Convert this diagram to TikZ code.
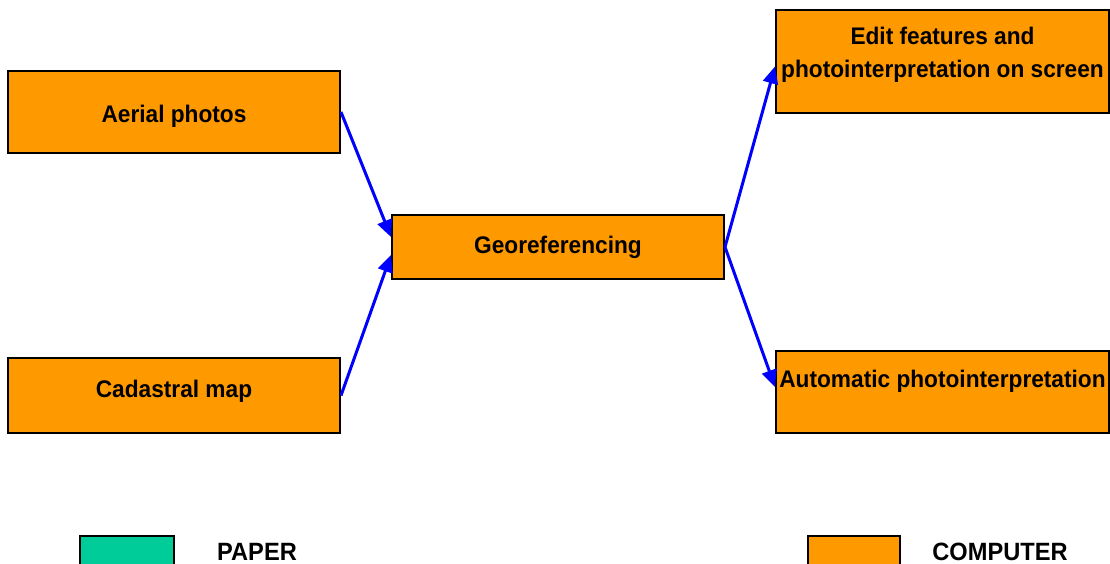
\documentclass[tikz,border=0pt]{standalone}
\usepackage{fontspec}
\setmainfont{Liberation Sans}[FakeStretch=0.945]
\usepackage{tikz}
\usetikzlibrary{arrows.meta,positioning}

\definecolor{boxorange}{HTML}{FF9900}
\definecolor{papergreen}{HTML}{00CC99}
\definecolor{flowblue}{HTML}{0000FF}

\begin{document}
\begin{tikzpicture}[x=1pt, y=1pt,
    box/.style={draw=black, line width=2pt, fill=boxorange, minimum width=332pt,
                inner sep=2pt, align=center, font=\fontsize{24}{33}\selectfont\bfseries},
    key/.style={draw=black, line width=2pt, minimum height=34pt},
    keytext/.style={anchor=base, font=\fontsize{25}{30}\selectfont\bfseries},
    flow/.style={draw=flowblue, line width=3pt, -{Triangle[length=17pt,width=15pt]}}]
   \useasboundingbox (0,0) rectangle (1110,564);

   \node[box, minimum height=82pt, text height=27pt, text depth=5pt] (aerial) at (174,452) {Aerial photos};
   \node[box, minimum height=75pt, text height=17.5pt, text depth=12.5pt] (cadastral) at (174,168.5) {Cadastral map};
   \node[box, minimum height=64pt] (georef) at (558,317) {Georeferencing};
   \node[box, minimum width=333pt, minimum height=103pt, text height=38pt, text depth=5pt] (edit) at (942.5,502.5)
        {Edit features and\\photointerpretation on screen};
   \node[box, minimum width=333pt, minimum height=82pt, text height=17.5pt, text depth=25.5pt] (autoint) at (942.5,172)
        {Automatic photointerpretation};

   %legend
   \node[key, fill=papergreen, minimum width=94pt] (paperkey) at (127,11) {};
   \node[keytext] (paper) at (257,3) {PAPER};
   \node[key, fill=boxorange, minimum width=92pt] (compkey) at (854,11) {};
   \node[keytext] (computer) at (1000,3) {COMPUTER};

  \path
    (aerial.east) edge[flow] ([yshift=10pt]georef.west)
    (cadastral.east) edge[flow] ([yshift=-8pt]georef.west)
    (georef.east) edge[flow] ([yshift=-5pt]edit.west)
                  edge[flow] ([yshift=5pt]autoint.west);
\end{tikzpicture}
\end{document}
